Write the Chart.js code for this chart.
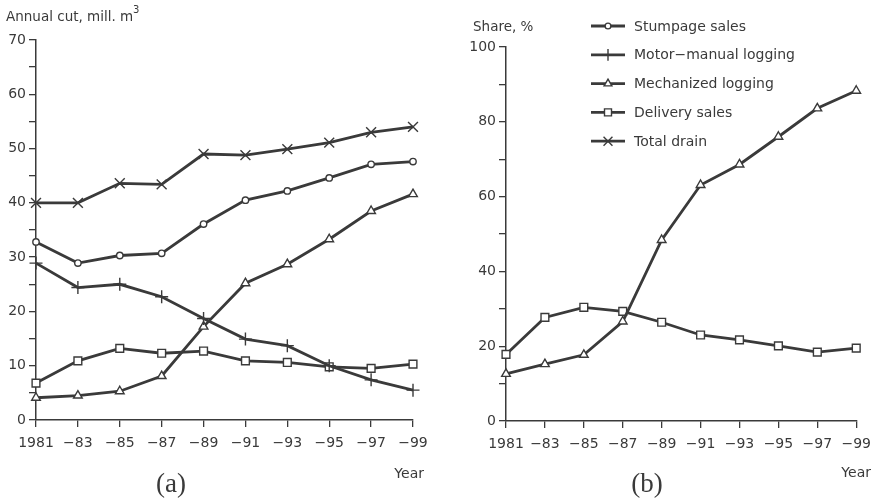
<!DOCTYPE html>
<html>
<head>
<meta charset="utf-8">
<script src="https://cdn.jsdelivr.net/npm/chart.js@4.4.0/dist/chart.umd.min.js"></script>
<style>
body { margin: 0; background: #fff; }
#wrap { position: relative; width: 879px; height: 501px; }
canvas { position: absolute; top: 0; }
</style>
</head>
<body>
<div id="wrap">
  <canvas id="chartA" width="440" height="501" style="left:0"></canvas>
  <canvas id="chartB" width="439" height="501" style="left:440px"></canvas>
</div>
<script>
// x labels
var years = ['1981', '\u221283', '\u221285', '\u221287', '\u221289', '\u221291', '\u221293', '\u221295', '\u221297', '\u221299'];

// (a) annual cut, mill. m3
var stumpageCut = [32.8, 28.9, 30.3, 30.7, 36.1, 40.5, 42.2, 44.6, 47.1, 47.6];
var motorCut    = [28.9, 24.4, 25.0, 22.7, 18.7, 14.9, 13.7, 10.0, 7.4, 5.5];
var mechCut     = [4.1, 4.5, 5.3, 8.1, 17.2, 25.2, 28.7, 33.3, 38.5, 41.6];
var deliveryCut = [6.8, 10.9, 13.2, 12.3, 12.7, 10.9, 10.6, 9.8, 9.5, 10.3];
var totalCut    = [40.0, 40.0, 43.6, 43.4, 49.0, 48.8, 49.9, 51.1, 53.0, 54.0];

// (b) share, %
var mechShare     = [12.6, 15.2, 17.7, 26.6, 48.4, 63.1, 68.6, 76.0, 83.6, 88.3];
var deliveryShare = [17.8, 27.7, 30.4, 29.3, 26.4, 23.0, 21.7, 20.1, 18.4, 19.5];

var seriesNames = ['Stumpage sales', 'Motor\u2212manual logging', 'Mechanized logging', 'Delivery sales', 'Total drain'];

var INK = '#3a3a3a';
var FONT = '"DejaVu Sans", sans-serif';

// marker look, same order as seriesNames
var markers = [
    { pointStyle: 'circle',   radius: 3.2 },
    { pointStyle: 'cross',    radius: 6.5 },
    { pointStyle: 'triangle', radius: 5 },
    { pointStyle: 'rect',     radius: 5.5 },
    { pointStyle: 'crossRot', radius: 7 }
];

function makeDataset(i, values) {
    var m = markers[i];
    return {
        label: seriesNames[i],
        data: values,
        borderColor: INK,
        borderWidth: 2.8,
        pointStyle: m.pointStyle,
        pointRadius: m.radius,
        pointBackgroundColor: '#fff',
        pointBorderColor: INK,
        pointBorderWidth: 1.4,
        tension: 0
    };
}

// own marker drawing for the hand made legend
function drawMarker(ctx, style, r, x, y) {
    ctx.beginPath();
    if (style === 'circle') {
        ctx.arc(x, y, r, 0, Math.PI * 2);
    } else if (style === 'rect') {
        var s = r * Math.SQRT1_2;
        ctx.rect(x - s, y - s, 2 * s, 2 * s);
    } else if (style === 'triangle') {
        ctx.moveTo(x, y - r);
        ctx.lineTo(x + r * 0.866, y + r * 0.5);
        ctx.lineTo(x - r * 0.866, y + r * 0.5);
        ctx.closePath();
    } else if (style === 'cross') {
        ctx.moveTo(x - r, y); ctx.lineTo(x + r, y);
        ctx.moveTo(x, y - r); ctx.lineTo(x, y + r);
    } else if (style === 'crossRot') {
        var d = r * Math.SQRT1_2;
        ctx.moveTo(x - d, y - d); ctx.lineTo(x + d, y + d);
        ctx.moveTo(x - d, y + d); ctx.lineTo(x + d, y - d);
    }
    if (style === 'circle' || style === 'rect' || style === 'triangle') ctx.fill();
    ctx.stroke();
}

// plugin that writes the axis titles and panel captions
function textPlugin(items) {
    return {
        id: 'panelText',
        afterDraw: function(chart) {
            var ctx = chart.ctx;
            ctx.save();
            ctx.fillStyle = INK;
            items.forEach(function(t) {
                ctx.font = t.font;
                ctx.textAlign = t.align || 'left';
                ctx.textBaseline = 'middle';
                ctx.fillText(t.text, t.x, t.y);
            });
            ctx.restore();
        }
    };
}

var legendPlugin = {
    id: 'lineLegend',
    afterDraw: function(chart) {
        var ctx = chart.ctx;
        ctx.save();
        seriesNames.forEach(function(name, i) {
            var y = 26 + i * 28.8;
            var m = markers[i];
            ctx.strokeStyle = INK;
            ctx.lineWidth = 2.8;
            ctx.beginPath();
            ctx.moveTo(151, y);
            ctx.lineTo(185, y);
            ctx.stroke();
            ctx.fillStyle = '#fff';
            ctx.lineWidth = 1.4;
            drawMarker(ctx, m.pointStyle, m.radius * 0.9, 168, y);
            ctx.fillStyle = INK;
            ctx.font = '14px ' + FONT;
            ctx.textAlign = 'left';
            ctx.textBaseline = 'middle';
            ctx.fillText(name, 194, y + 1);
        });
        ctx.restore();
    }
};

function makeScales(yMax, yStep, labelEvery, yWidth) {
    return {
        x: {
            type: 'category',
            offset: false,
            grid: { drawOnChartArea: false, drawTicks: true, tickLength: 7, color: INK, lineWidth: 1.3 },
            border: { color: INK, width: 1.5 },
            ticks: { color: INK, font: { family: FONT, size: 14 }, padding: 8, maxRotation: 0, autoSkip: false },
            afterFit: function(scale) { scale.height = 40; }
        },
        y: {
            min: 0,
            max: yMax,
            grid: { drawOnChartArea: false, drawTicks: true, tickLength: 7, color: INK, lineWidth: 1.3 },
            border: { color: INK, width: 1.5 },
            ticks: {
                stepSize: yStep,
                autoSkip: false,
                color: INK,
                font: { family: FONT, size: 14 },
                padding: 3,
                callback: function(v) { return v % labelEvery === 0 ? v : ''; }
            },
            afterFit: function(scale) { scale.width = yWidth; }
        }
    };
}

// (a) annual cut
new Chart(document.getElementById('chartA'), {
    type: 'line',
    data: {
        labels: years,
        datasets: [
            makeDataset(0, stumpageCut),
            makeDataset(1, motorCut),
            makeDataset(2, mechCut),
            makeDataset(3, deliveryCut),
            makeDataset(4, totalCut)
        ]
    },
    options: {
        responsive: false,
        animation: false,
        layout: { padding: { left: 0, top: 40, right: 27, bottom: 41 } },
        plugins: { legend: { display: false }, tooltip: { enabled: false } },
        scales: makeScales(70, 5, 10, 36)
    },
    plugins: [textPlugin([
        { text: 'Annual cut, mill. m', x: 6, y: 17, font: '13.5px ' + FONT },
        { text: '3', x: 133, y: 10, font: '10px ' + FONT },
        { text: 'Year', x: 424, y: 474, font: '14px ' + FONT, align: 'right' },
        { text: '(a)', x: 171, y: 485, font: '27px "Liberation Serif", serif', align: 'center' }
    ])]
});

// (b) share
new Chart(document.getElementById('chartB'), {
    type: 'line',
    data: {
        labels: years,
        datasets: [
            makeDataset(2, mechShare),
            makeDataset(3, deliveryShare)
        ]
    },
    options: {
        responsive: false,
        animation: false,
        layout: { padding: { left: 0, top: 47, right: 21, bottom: 40 } },
        plugins: { legend: { display: false }, tooltip: { enabled: false } },
        scales: makeScales(100, 10, 20, 66)
    },
    plugins: [legendPlugin, textPlugin([
        { text: 'Share, %', x: 33, y: 27, font: '13.5px ' + FONT },
        { text: 'Year', x: 431, y: 473, font: '14px ' + FONT, align: 'right' },
        { text: '(b)', x: 207, y: 485, font: '27px "Liberation Serif", serif', align: 'center' }
    ])]
});
</script>
</body>
</html>
